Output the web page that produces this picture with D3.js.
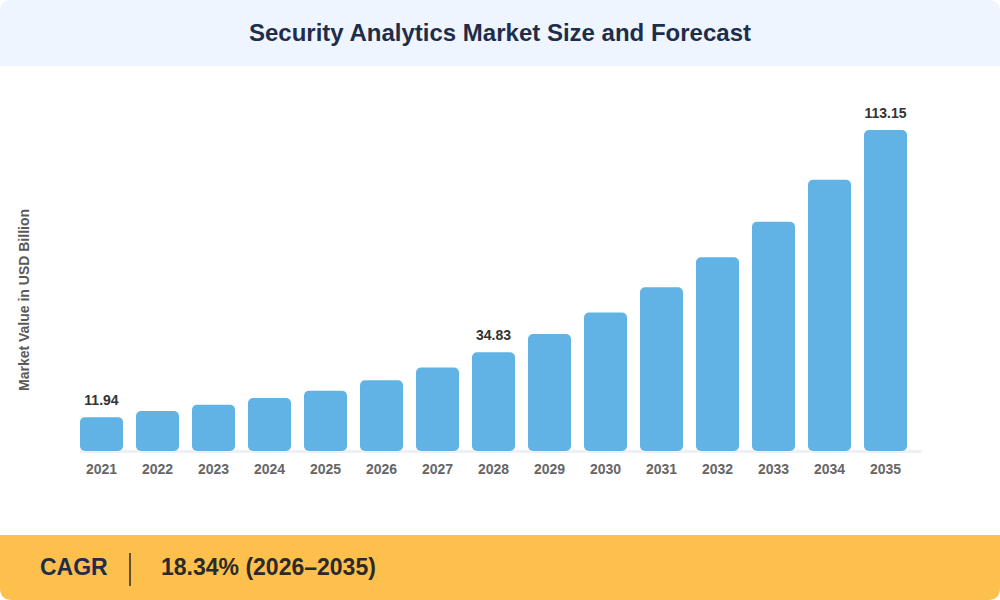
<!DOCTYPE html>
<html>
<head>
<meta charset="utf-8">
<script src="https://cdn.jsdelivr.net/npm/d3@7"></script>
<style>
  html, body { margin: 0; padding: 0; background: #ffffff; }
  svg { display: block; font-family: "Liberation Sans", Arial, sans-serif; }
</style>
</head>
<body>
<div id="chart"></div>
<script>
const years = ["2021", "2022", "2023", "2024", "2025", "2026", "2027", "2028",
  "2029", "2030", "2031", "2032", "2033", "2034", "2035"];
const marketValues = [11.94, 14.1, 16.3, 18.7, 21.2, 24.9, 29.4, 34.83,
  41.2, 48.8, 57.7, 68.3, 80.8, 95.6, 113.15];
const labelledYears = ["2021", "2028", "2035"];

const title = "Security Analytics Market Size and Forecast";
const yTitle = "Market Value in USD Billion";
const cagrLabel = "CAGR";
const cagrValue = "18.34% (2026–2035)";

const width = 1000;
const height = 600;
const baseline = 451;
const plotTop = 130;
const corner = 12;

const svg = d3.select("#chart")
  .append("svg")
  .attr("width", width)
  .attr("height", height);

// header band, rounded top corners
svg.append("path")
  .attr("d", `M0,${corner} Q0,0 ${corner},0 H${width - corner} Q${width},0 ${width},${corner} V66 H0 Z`)
  .attr("fill", "#eef5fe");

svg.append("text")
  .attr("x", width / 2)
  .attr("y", 41)
  .attr("text-anchor", "middle")
  .attr("font-size", "24px")
  .attr("font-weight", "bold")
  .attr("fill", "#1e2d4a")
  .text(title);

const x = d3.scaleBand()
  .domain(years)
  .range([80, 907])
  .paddingInner(0.232)
  .paddingOuter(0);

const y = d3.scaleLinear()
  .domain([0, 113.15])
  .range([baseline, plotTop]);

// baseline
svg.append("rect")
  .attr("x", 80)
  .attr("y", baseline - 1)
  .attr("width", 842)
  .attr("height", 3)
  .attr("fill", "#eef0f4");

svg.selectAll(".bar")
  .data(years)
  .enter()
  .append("rect")
  .attr("class", "bar")
  .attr("x", (d) => x(d))
  .attr("y", (d, i) => y(marketValues[i]))
  .attr("width", x.bandwidth())
  .attr("height", (d, i) => baseline - y(marketValues[i]))
  .attr("rx", 5)
  .attr("fill", "#62b3e5");

// value labels on first, middle, last
years.forEach((yr, i) => {
  if (!labelledYears.includes(yr)) return;
  svg.append("text")
    .attr("x", x(yr) + x.bandwidth() / 2)
    .attr("y", y(marketValues[i]) - 12)
    .attr("text-anchor", "middle")
    .attr("font-size", "14px")
    .attr("font-weight", "bold")
    .attr("fill", "#333333")
    .text(marketValues[i].toFixed(2));
});

// year ticks
const xAxis = svg.append("g")
  .attr("transform", `translate(0,${baseline})`)
  .call(d3.axisBottom(x).tickSize(0).tickPadding(13));
xAxis.select(".domain").remove();
xAxis.selectAll("text")
  .attr("font-size", "14px")
  .attr("font-weight", "bold")
  .attr("font-family", "Liberation Sans, Arial, sans-serif")
  .attr("fill", "#666666");

svg.append("text")
  .attr("transform", "translate(29,300) rotate(-90)")
  .attr("text-anchor", "middle")
  .attr("font-size", "14px")
  .attr("font-weight", "bold")
  .attr("fill", "#5a5a5a")
  .text(yTitle);

// CAGR band, rounded bottom corners
svg.append("path")
  .attr("d", `M0,535 H${width} V${height - corner} Q${width},${height} ${width - corner},${height} H${corner} Q0,${height} 0,${height - corner} Z`)
  .attr("fill", "#fdc04d");

svg.append("text")
  .attr("x", 40)
  .attr("y", 575)
  .attr("font-size", "23px")
  .attr("font-weight", "bold")
  .attr("fill", "#1e2d4a")
  .text(cagrLabel);

svg.append("line")
  .attr("x1", 130).attr("x2", 130)
  .attr("y1", 553).attr("y2", 586)
  .attr("stroke", "#2b2b2b")
  .attr("stroke-width", 1.5);

svg.append("text")
  .attr("x", 161)
  .attr("y", 575)
  .attr("font-size", "23px")
  .attr("font-weight", "bold")
  .attr("fill", "#2a2a2a")
  .text(cagrValue);
</script>
</body>
</html>
